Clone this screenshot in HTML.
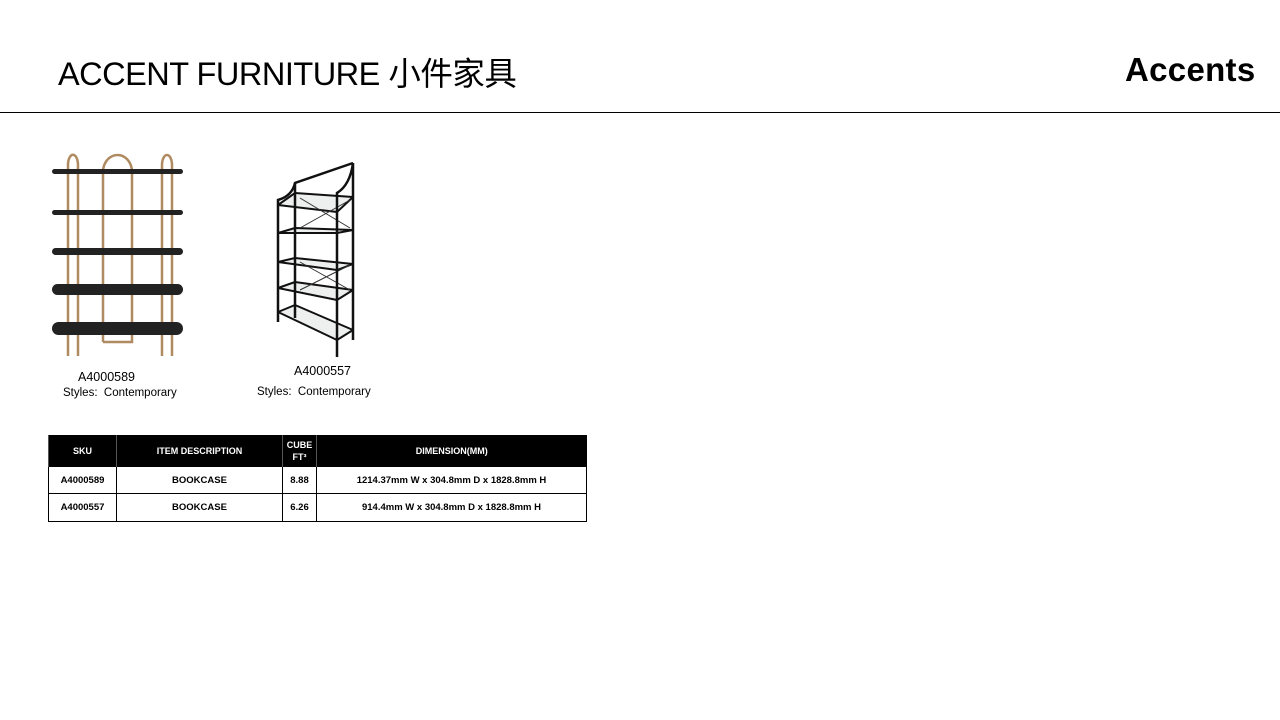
<!DOCTYPE html>
<html><head><meta charset="utf-8"><style>
body{margin:0;width:1280px;height:720px;background:#fff;position:relative;overflow:hidden;font-family:"Liberation Sans",Arial,sans-serif}
.t{position:absolute;white-space:nowrap}
table{position:absolute;left:48px;top:435px;border-collapse:collapse;font-size:9.5px;font-weight:bold;table-layout:fixed;width:538px}
td{border:1px solid #000;text-align:center;padding:0;overflow:hidden}
th{background:#000;color:#fff;font-size:9px;font-weight:bold;height:31px;padding:0;border-left:1px solid #555}
</style></head><body>
<div class="t" style="left:58px;top:48px;font-size:32.5px;font-family:'Liberation Sans','Noto Sans CJK SC',sans-serif;letter-spacing:-0.5px">ACCENT FURNITURE 小件家具</div>
<div class="t" style="left:1125px;top:51px;font-size:33px;font-weight:bold;letter-spacing:0.3px">Accents</div>
<div class="t" style="left:0;top:112px;width:1280px;height:1px;background:#000"></div>
<svg class="t" style="left:0;top:0" width="600" height="420">
<g stroke="#b08a60" stroke-width="2.5" fill="none">
<path d="M68 356 V165 A5 10 0 0 1 74 155 A5 10 0 0 1 78 165 V356"/>
<path d="M162 356 V165 A5 10 0 0 1 167 155 A5 10 0 0 1 172 165 V356"/>
<path d="M103 342 V172 A14.5 17 0 0 1 132 172 V342 H103"/>
</g>
<g fill="#222">
<rect x="52" y="169" width="131" height="5" rx="2.5"/>
<rect x="52" y="210" width="131" height="5" rx="2.5"/>
<rect x="52" y="248" width="131" height="7" rx="3.5"/>
<rect x="52" y="284" width="131" height="11" rx="5.5"/>
<rect x="52" y="322" width="131" height="13" rx="6.5"/>
</g>
<g fill="#eef0f0" stroke="#111" stroke-width="2" stroke-linejoin="round">
<path d="M278 205 L337 212 L353 197 L295 193 Z"/>
<path d="M278 233 L337 233 L353 230 L295 228 Z"/>
<path d="M278 262 L337 270 L353 264 L295 258 Z"/>
<path d="M278 288 L337 300 L353 290 L295 282 Z"/>
<path d="M278 312 L337 340 L353 330 L295 305 Z"/>
</g>
<g stroke="#333" stroke-width="1"><path d="M300 198 L350 228 M300 228 L350 200 M300 262 L350 290 M300 290 L350 265"/></g>
<g stroke="#111" stroke-width="2.5" fill="none">
<path d="M278 322 V200 Q292 196 295 183 L353 163"/>
<path d="M295 183 V318"/>
<path d="M337 357 V193 Q350 185 353 163 V340"/>
</g>
</svg>
<div class="t" style="left:78px;top:370px;font-size:12.5px">A4000589</div>
<div class="t" style="left:63px;top:387px;font-size:11.5px">Styles:&nbsp; Contemporary</div>
<div class="t" style="left:294px;top:364px;font-size:12.5px">A4000557</div>
<div class="t" style="left:257px;top:386px;font-size:11.5px">Styles:&nbsp; Contemporary</div>
<table>
<colgroup><col style="width:68px"><col style="width:166px"><col style="width:34px"><col style="width:270px"></colgroup>
<tr><th>SKU</th><th>ITEM DESCRIPTION</th><th style="line-height:12px">CUBE<br>FT³</th><th>DIMENSION(MM)</th></tr>
<tr style="height:27px"><td>A4000589</td><td>BOOKCASE</td><td>8.88</td><td>1214.37mm W x 304.8mm D x 1828.8mm H</td></tr>
<tr style="height:28px"><td>A4000557</td><td>BOOKCASE</td><td>6.26</td><td>914.4mm W x 304.8mm D x 1828.8mm H</td></tr>
</table>
</body></html>
